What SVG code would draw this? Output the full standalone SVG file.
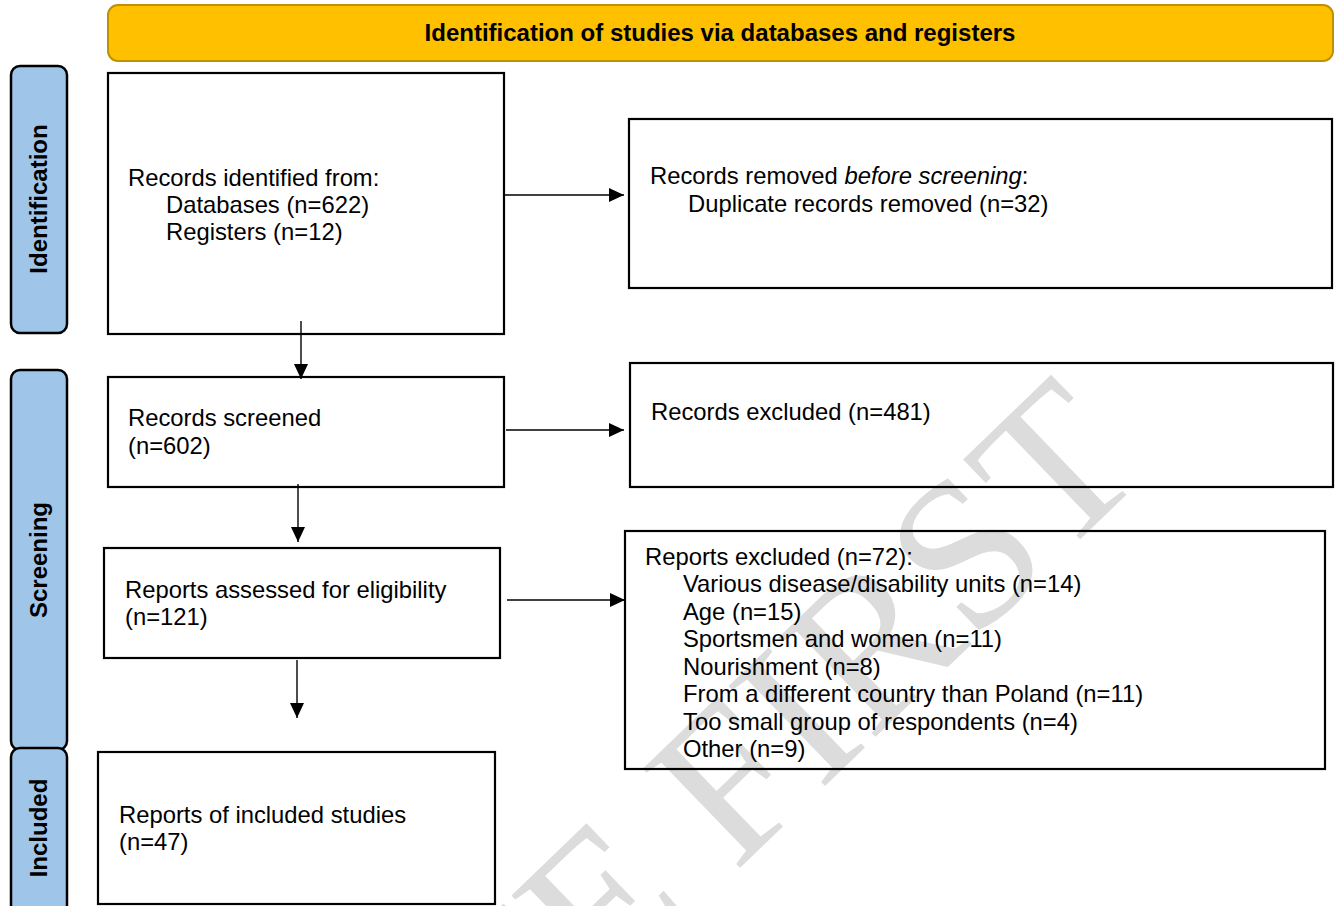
<svg xmlns="http://www.w3.org/2000/svg" width="1342" height="906" viewBox="0 0 1342 906">
<style>
.box{fill:none;stroke:#000;stroke-width:2.2}
.lbl{fill:#9FC5E8;stroke:#000;stroke-width:2.5}
.t{font-family:"Liberation Sans",Arial,sans-serif;font-size:23.8px;fill:#000}
.b{font-family:"Liberation Sans",Arial,sans-serif;font-size:24px;font-weight:bold;fill:#000}
.c{stroke:#000;stroke-width:1.4;fill:none;marker-end:url(#ah)}
.wm{font-family:"Liberation Serif","Times New Roman",serif;font-size:212px;fill:#dcdcdc}
</style>
<defs>
<marker id="ah" markerUnits="userSpaceOnUse" markerWidth="15" markerHeight="14" refX="15" refY="7" orient="auto">
<path d="M0,0 L15,7 L0,14 z" fill="#000"/>
</marker>
</defs>
<rect x="0" y="0" width="1342" height="906" fill="#fff"/>
<text class="wm" transform="translate(1150,472) rotate(-44)" text-anchor="end">ONLINE FIRST</text>
<g id="header">
<rect x="108" y="5" width="1225" height="56" rx="10" fill="#FFC000" stroke="#BF9000" stroke-width="2"/>
<text class="b" x="720" y="41" text-anchor="middle">Identification of studies via databases and registers</text>
</g>
<g id="lbl-identification">
<rect class="lbl" x="11" y="66" width="56" height="267" rx="9"/>
<text class="b" transform="translate(47,199) rotate(-90)" text-anchor="middle">Identification</text>
</g>
<g id="lbl-screening">
<rect class="lbl" x="11" y="370" width="56" height="380" rx="9"/>
<text class="b" transform="translate(47,560) rotate(-90)" text-anchor="middle">Screening</text>
</g>
<g id="lbl-included">
<rect class="lbl" x="11" y="748" width="56" height="166" rx="9"/>
<text class="b" transform="translate(47,828) rotate(-90)" text-anchor="middle">Included</text>
</g>
<g id="n-identified">
<rect class="box" x="108" y="73" width="396" height="261"/>
<text class="t" x="128" y="186">Records identified from:</text>
<text class="t" x="166" y="213">Databases (n=622)</text>
<text class="t" x="166" y="240">Registers (n=12)</text>
</g>
<g id="n-removed">
<rect class="box" x="629" y="119" width="703" height="169"/>
<text class="t" x="650" y="184">Records removed <tspan font-style="italic">before screening</tspan>:</text>
<text class="t" x="688" y="212">Duplicate records removed (n=32)</text>
</g>
<g id="n-screened">
<rect class="box" x="108" y="377" width="396" height="110"/>
<text class="t" x="128" y="426">Records screened</text>
<text class="t" x="128" y="454">(n=602)</text>
</g>
<g id="n-excluded">
<rect class="box" x="630" y="363" width="703" height="124"/>
<text class="t" x="651" y="420">Records excluded (n=481)</text>
</g>
<g id="n-assessed">
<rect class="box" x="104" y="548" width="396" height="110"/>
<text class="t" x="125" y="598">Reports assessed for eligibility</text>
<text class="t" x="125" y="625">(n=121)</text>
</g>
<g id="n-reports-excluded">
<rect class="box" x="625" y="531" width="700" height="238"/>
<text class="t" x="645" y="565">Reports excluded (n=72):</text>
<text class="t" x="683" y="592">Various disease/disability units (n=14)</text>
<text class="t" x="683" y="620">Age (n=15)</text>
<text class="t" x="683" y="647">Sportsmen and women (n=11)</text>
<text class="t" x="683" y="675">Nourishment (n=8)</text>
<text class="t" x="683" y="702">From a different country than Poland (n=11)</text>
<text class="t" x="683" y="730">Too small group of respondents (n=4)</text>
<text class="t" x="683" y="757">Other (n=9)</text>
</g>
<g id="n-included">
<rect class="box" x="98" y="752" width="397" height="152"/>
<text class="t" x="119" y="823">Reports of included studies</text>
<text class="t" x="119" y="850">(n=47)</text>
</g>
<g id="connectors">
<line class="c" x1="301" y1="321" x2="301" y2="379"/>
<line class="c" x1="505" y1="195" x2="624" y2="195"/>
<line class="c" x1="506" y1="430" x2="624" y2="430"/>
<line class="c" x1="298" y1="484" x2="298" y2="542"/>
<line class="c" x1="507" y1="600" x2="625" y2="600"/>
<line class="c" x1="297" y1="660" x2="297" y2="718"/>
</g>
</svg>
